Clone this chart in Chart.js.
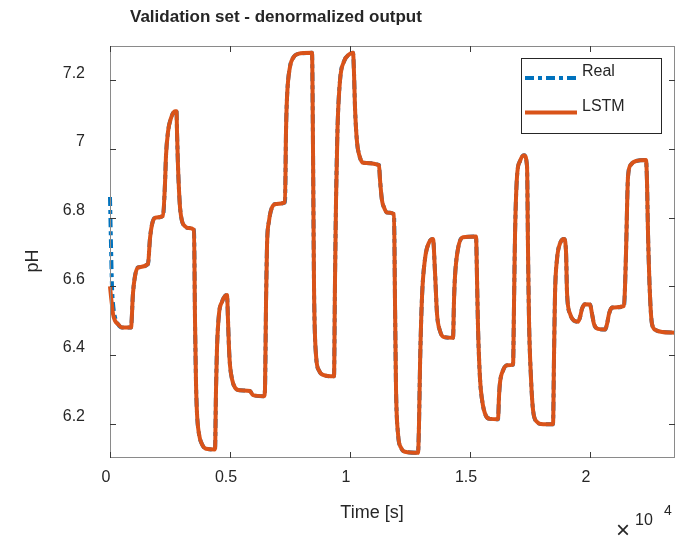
<!DOCTYPE html>
<html>
<head>
<meta charset="utf-8">
<script src="https://cdn.jsdelivr.net/npm/chart.js@4/dist/chart.umd.min.js"></script>
<style>
  html, body { margin: 0; padding: 0; background: #fff; }
  #chart { display: block; }
</style>
</head>
<body>
<canvas id="chart" width="679" height="543"></canvas>
<script>
// time axis in seconds (shown as x 10^4)
const timeSec = [
  0, 42, 83, 125, 208, 333, 500, 875, 958, 1042, 1167,
  1583, 1667, 1750, 1875, 2208, 2292, 2333, 2417, 2542, 2708, 2771,
  2792, 2833, 2875, 2917, 3000, 3125, 3250, 3500,
  3542, 3583, 3625, 3708, 3833, 4000, 4375,
  4417, 4458, 4542, 4667, 4792, 4875,
  4917, 4958, 5000, 5083, 5208, 5417, 5833, 5958, 6417,
  6458, 6500, 6542, 6625, 6750, 6917, 7292,
  7333, 7375, 7500, 7625, 7833, 8417,
  8458, 8500, 8583, 8708, 8875, 9333,
  9375, 9417, 9479, 9583, 9750, 9958, 10125,
  10167, 10208, 10292, 10375, 10542, 11208,
  11250, 11333, 11417, 11542, 11833,
  11875, 11917, 12000, 12125, 12292, 12833,
  12875, 12917, 13000, 13125, 13292, 13458,
  13542, 13625, 13750, 13917, 14292,
  14333, 14375, 14500, 14708, 15250,
  15292, 15333, 15417, 15500, 15667, 15833, 16167,
  16208, 16250, 16375, 16542, 16792,
  16833, 16875, 16958, 17083, 17250,
  17375, 17417, 17458, 17542, 17625, 17792, 17958, 18458,
  18500, 18542, 18625, 18750, 18917,
  19000, 19042, 19167, 19333, 19500,
  19583, 19667, 19792, 20000, 20083, 20167, 20333, 20625,
  20708, 20792, 20917, 21417,
  21458, 21500, 21583, 21708, 21917, 22333,
  22375, 22417, 22500, 22583, 22750, 23000, 23540
];

// measured pH
const realPH = [
  6.86, 6.72, 6.60, 6.55, 6.51, 6.49, 6.48, 6.48, 6.58, 6.63, 6.655,
  6.665, 6.74, 6.78, 6.80, 6.805, 6.90, 6.98, 7.05, 7.09, 7.11, 7.11,
  7.05, 6.95, 6.88, 6.83, 6.79, 6.775, 6.77, 6.765,
  6.50, 6.32, 6.23, 6.17, 6.14, 6.127, 6.125,
  6.30, 6.42, 6.52, 6.555, 6.572, 6.575,
  6.50, 6.42, 6.37, 6.33, 6.305, 6.297, 6.295, 6.283, 6.28,
  6.30, 6.55, 6.72, 6.79, 6.83, 6.84, 6.845,
  7.05, 7.15, 7.24, 7.265, 7.277, 7.28,
  7.0, 6.6, 6.40, 6.355, 6.342, 6.338,
  6.62, 6.85, 7.06, 7.20, 7.255, 7.275, 7.28,
  7.22, 7.12, 7.02, 6.985, 6.96, 6.953,
  6.91, 6.85, 6.83, 6.815, 6.81,
  6.55, 6.30, 6.17, 6.13, 6.118, 6.115,
  6.20, 6.37, 6.57, 6.68, 6.728, 6.738,
  6.64, 6.52, 6.47, 6.452, 6.45,
  6.56, 6.63, 6.71, 6.743, 6.745,
  6.62, 6.48, 6.33, 6.27, 6.222, 6.214, 6.213,
  6.28, 6.32, 6.355, 6.37, 6.372,
  6.55, 6.75, 6.92, 6.965, 6.982,
  6.95, 6.70, 6.50, 6.33, 6.24, 6.205, 6.199, 6.198,
  6.40, 6.58, 6.68, 6.725, 6.738,
  6.70, 6.58, 6.52, 6.50, 6.497,
  6.51, 6.535, 6.548, 6.547, 6.52, 6.49, 6.476, 6.474,
  6.49, 6.52, 6.538, 6.543,
  6.60, 6.70, 6.92, 6.955, 6.965, 6.968,
  6.90, 6.75, 6.57, 6.49, 6.472, 6.467, 6.465
];

// LSTM output: differs from the real signal only in the first samples
const lstmHead = [6.60, 6.57, 6.545, 6.52, 6.50, 6.49];
const lstmPH = lstmHead.concat(realPH.slice(lstmHead.length));

const xTicks = [0, 5000, 10000, 15000, 20000];
const yTicks = [6.2, 6.4, 6.6, 6.8, 7.0, 7.2];

const FONT = "'Liberation Sans', Arial, sans-serif";
const TXT = '#262626';

function toPoints(vals) {
  return timeSec.map((t, i) => ({ x: t, y: vals[i] }));
}

// box, inward ticks, labels and legend in MATLAB style
const matlabLook = {
  id: 'matlabLook',
  afterDatasetsDraw(chart) {
    const { ctx, chartArea: a, scales: { x, y } } = chart;
    ctx.save();
    ctx.lineWidth = 1;
    ctx.strokeStyle = '#8a8a8a';
    ctx.strokeRect(Math.round(a.left) + 0.5, Math.round(a.top) + 0.5,
                   Math.round(a.right - a.left) - 1, Math.round(a.bottom - a.top) - 1);
    ctx.strokeStyle = '#3a3a3a';
    ctx.beginPath();
    x.ticks.forEach(t => {
      const px = Math.round(x.getPixelForValue(t.value)) + 0.5;
      ctx.moveTo(px, a.bottom); ctx.lineTo(px, a.bottom - 6);
      ctx.moveTo(px, a.top); ctx.lineTo(px, a.top + 6);
    });
    y.ticks.forEach(t => {
      const py = Math.round(y.getPixelForValue(t.value)) + 0.5;
      ctx.moveTo(a.left, py); ctx.lineTo(a.left + 6, py);
      ctx.moveTo(a.right, py); ctx.lineTo(a.right - 6, py);
    });
    ctx.stroke();

    // legend
    const ds = chart.data.datasets;
    ctx.fillStyle = '#fff';
    ctx.fillRect(521, 58, 140, 75);
    ctx.strokeStyle = '#262626';
    ctx.strokeRect(521.5, 58.5, 140, 75);
    [[ds[0], 78], [ds[1], 112.5]].forEach(([d, ly]) => {
      ctx.beginPath();
      ctx.strokeStyle = d.borderColor;
      ctx.lineWidth = d.borderWidth;
      ctx.setLineDash(d.borderDash || []);
      ctx.moveTo(525, ly); ctx.lineTo(577, ly);
      ctx.stroke();
      ctx.setLineDash([]);
      ctx.fillStyle = TXT;
      ctx.font = '16px ' + FONT;
      ctx.textAlign = 'left';
      ctx.textBaseline = 'middle';
      ctx.fillText(d.label, 582, ly - 6);
    });
    ctx.restore();
  },
  afterDraw(chart) {
    const { ctx } = chart;
    ctx.save();
    ctx.fillStyle = TXT;
    ctx.textBaseline = 'middle';

    ctx.font = 'bold 17px ' + FONT;
    ctx.textAlign = 'left';
    ctx.fillText('Validation set - denormalized output', 130, 17);

    ctx.font = '18px ' + FONT;
    ctx.textAlign = 'center';
    ctx.fillText('Time [s]', 372, 513);

    ctx.save();
    ctx.translate(33, 261);
    ctx.rotate(-Math.PI / 2);
    ctx.font = '18px ' + FONT;
    ctx.fillText('pH', 0, 0);
    ctx.restore();

    ctx.font = '300 24px ' + FONT;
    ctx.fillText('×', 623, 531);
    ctx.font = '16px ' + FONT;
    ctx.fillText('10', 644, 521);
    ctx.font = '14px ' + FONT;
    ctx.fillText('4', 668, 511);
    ctx.restore();
  }
};

document.addEventListener('DOMContentLoaded', function() {
  const ctx = document.getElementById('chart').getContext('2d');
  new Chart(ctx, {
    type: 'line',
    data: {
      datasets: [
        {
          label: 'Real',
          data: toPoints(realPH),
          borderColor: '#0072BD',
          borderWidth: 4,
          borderDash: [9, 4, 4, 4],
          pointRadius: 0,
          fill: false,
          clip: 3,
          cubicInterpolationMode: 'monotone',
          order: 2
        },
        {
          label: 'LSTM',
          data: toPoints(lstmPH),
          borderColor: '#D95319',
          borderWidth: 4,
          pointRadius: 0,
          fill: false,
          clip: 3,
          cubicInterpolationMode: 'monotone',
          order: 1
        }
      ]
    },
    options: {
      responsive: false,
      animation: false,
      events: [],
      layout: { padding: { top: 46, right: 4, left: 0, bottom: 0 } },
      plugins: {
        legend: { display: false },
        title: { display: false },
        tooltip: { enabled: false }
      },
      scales: {
        x: {
          type: 'linear',
          min: 0,
          max: 23540,
          afterFit: s => { s.height = 85; },
          afterBuildTicks: s => { s.ticks = xTicks.map(v => ({ value: v })); },
          grid: { display: false, drawTicks: false },
          border: { display: false },
          ticks: {
            color: TXT,
            font: { family: FONT, size: 16 },
            padding: 10,
            labelOffset: -4,
            maxRotation: 0,
            callback: v => String(v / 10000)
          }
        },
        y: {
          type: 'linear',
          min: 6.1,
          max: 7.3,
          afterFit: s => { s.width = 110; },
          afterBuildTicks: s => { s.ticks = yTicks.map(v => ({ value: v })); },
          grid: { display: false, drawTicks: false },
          border: { display: false },
          ticks: {
            color: TXT,
            font: { family: FONT, size: 16 },
            padding: 25,
            labelOffset: -7,
            callback: v => String(Math.round(v * 10) / 10)
          }
        }
      }
    },
    plugins: [matlabLook]
  });
});
</script>
</body>
</html>
